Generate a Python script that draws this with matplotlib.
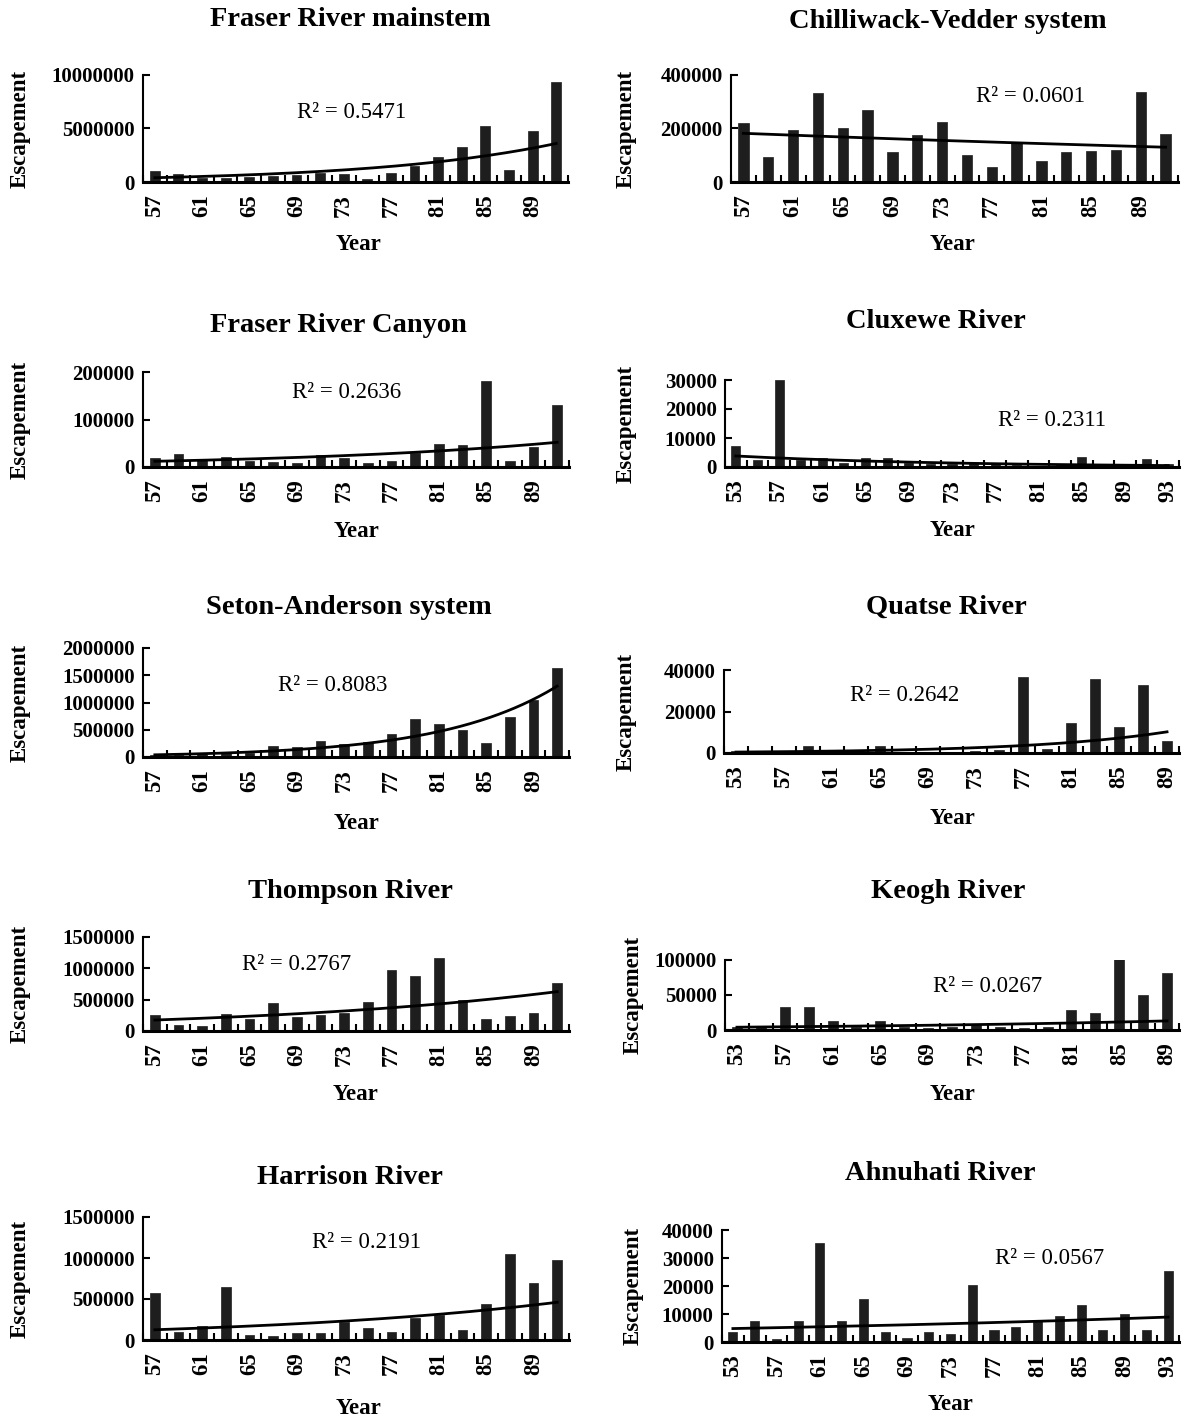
import matplotlib
matplotlib.use('Agg')
import matplotlib.pyplot as plt
import numpy as np
from matplotlib.ticker import FixedLocator

plt.rcParams['font.family'] = ['Liberation Serif', 'DejaVu Serif']

# ---------------- data ----------------
yrs_57_91 = [57, 59, 61, 63, 65, 67, 69, 71, 73, 75, 77, 79, 81, 83, 85, 87, 89, 91]
yrs_53_93 = [53, 55, 57, 59, 61, 63, 65, 67, 69, 71, 73, 75, 77, 79, 81, 83, 85, 87, 89, 91, 93]
yrs_53_89 = [53, 55, 57, 59, 61, 63, 65, 67, 69, 71, 73, 75, 77, 79, 81, 83, 85, 87, 89]

fraser_main = [1000000, 750000, 350000, 350000, 450000, 550000, 650000, 800000, 750000,
               300000, 800000, 1500000, 2300000, 3300000, 5200000, 1100000, 4800000, 9300000]
chilliwack = [220000, 95000, 195000, 331000, 202000, 271000, 112000, 177000, 225000,
              100000, 56000, 145000, 78000, 112000, 115000, 118000, 337000, 180000]
fraser_canyon = [19000, 28000, 17000, 21000, 12000, 10000, 8000, 25000, 20000,
                 8000, 12000, 30000, 48000, 46000, 181000, 12000, 42000, 131000]
cluxewe = [7100, 2500, 30000, 2500, 3200, 1500, 3200, 3200, 1500, 1000, 1200,
           1500, 1000, 600, 500, 800, 3600, 600, 500, 2700, 1000]
seton = [30000, 40000, 50000, 90000, 80000, 210000, 185000, 285000, 230000,
         270000, 420000, 705000, 610000, 490000, 250000, 735000, 1055000, 1625000]
quatse = [1200, 200, 200, 3500, 200, 200, 3500, 500, 300, 500, 1000,
          1500, 36500, 2000, 14300, 35600, 12500, 33000, 5800]
thompson = [255000, 96000, 80000, 266000, 186000, 441000, 229000, 255000, 282000,
            468000, 973000, 883000, 1165000, 495000, 186000, 245000, 282000, 760000]
keogh = [5000, 5000, 32500, 32500, 12500, 5000, 13500, 5000, 3000, 5000, 7000,
         5000, 3000, 5000, 28500, 24000, 101000, 50000, 81000]
harrison = [570000, 100000, 165000, 650000, 60000, 50000, 80000, 80000, 215000,
            150000, 100000, 265000, 305000, 122000, 435000, 1045000, 690000, 975000]
ahnuhati = [3600, 7500, 1200, 7500, 35400, 7500, 15200, 3600, 1500, 3600, 3000,
            20200, 4200, 5400, 7700, 9300, 13100, 4200, 10100, 4200, 25300]

# exponential trendline values at first and last year
trend_fraser_main = [400000, 3600000]
trend_chilliwack = [182000, 130000]
trend_fraser_canyon = [12000, 52000]
trend_cluxewe = [3800, 500]
trend_seton = [40000, 1300000]
trend_quatse = [450, 10200]
trend_thompson = [175000, 628000]
trend_keogh = [4000, 13000]
trend_harrison = [125000, 460000]
trend_ahnuhati = [4800, 8900]

r2_labels = ["0.5471", "0.0601", "0.2636", "0.2311", "0.8083",
             "0.2642", "0.2767", "0.0267", "0.2191", "0.0567"]
titles = ["Fraser River mainstem", "Chilliwack-Vedder system", "Fraser River Canyon",
          "Cluxewe River", "Seton-Anderson system", "Quatse River", "Thompson River",
          "Keogh River", "Harrison River", "Ahnuhati River"]

yt_fraser_main = [0, 5000000, 10000000]
yt_chilliwack = [0, 200000, 400000]
yt_fraser_canyon = [0, 100000, 200000]
yt_cluxewe = [0, 10000, 20000, 30000]
yt_seton = [0, 500000, 1000000, 1500000, 2000000]
yt_quatse = [0, 20000, 40000]
yt_thompson = [0, 500000, 1000000, 1500000]
yt_keogh = [0, 50000, 100000]
yt_harrison = [0, 500000, 1000000, 1500000]
yt_ahnuhati = [0, 10000, 20000, 30000, 40000]

# ---------------- layout (pixels) ----------------
W, H = 1185, 1423
fig = plt.figure(figsize=(W / 100, H / 100), dpi=100)
fig.patch.set_facecolor('white')

panels = [
    dict(years=yrs_57_91, vals=fraser_main, trend=trend_fraser_main, yt=yt_fraser_main,
         box=(143, 75, 568, 182), r2=(352, 113), tt=(350, 19), xl=(358, 245), yl=20),
    dict(years=yrs_57_91, vals=chilliwack, trend=trend_chilliwack, yt=yt_chilliwack,
         box=(731, 75, 1178, 182), r2=(1030, 97), tt=(948, 21), xl=(952, 245), yl=626),
    dict(years=yrs_57_91, vals=fraser_canyon, trend=trend_fraser_canyon, yt=yt_fraser_canyon,
         box=(143, 372, 569, 467), r2=(347, 393), tt=(338, 325), xl=(357, 532), yl=20),
    dict(years=yrs_53_93, vals=cluxewe, trend=trend_cluxewe, yt=yt_cluxewe,
         box=(725, 380, 1179, 467), r2=(1052, 421), tt=(936, 322), xl=(952, 531), yl=626),
    dict(years=yrs_57_91, vals=seton, trend=trend_seton, yt=yt_seton,
         box=(143, 648, 569, 757), r2=(333, 686), tt=(349, 608), xl=(357, 823), yl=20),
    dict(years=yrs_53_89, vals=quatse, trend=trend_quatse, yt=yt_quatse,
         box=(724, 670, 1179, 753), r2=(905, 696), tt=(946, 607), xl=(952, 818), yl=626),
    dict(years=yrs_57_91, vals=thompson, trend=trend_thompson, yt=yt_thompson,
         box=(143, 937, 569, 1031), r2=(297, 965), tt=(350, 892), xl=(356, 1095), yl=20),
    dict(years=yrs_53_89, vals=keogh, trend=trend_keogh, yt=yt_keogh,
         box=(725, 960, 1179, 1030), r2=(988, 986), tt=(948, 892), xl=(952, 1095), yl=633),
    dict(years=yrs_57_91, vals=harrison, trend=trend_harrison, yt=yt_harrison,
         box=(143, 1217, 569, 1340), r2=(366, 1242), tt=(350, 1178), xl=(358, 1408), yl=20),
    dict(years=yrs_53_93, vals=ahnuhati, trend=trend_ahnuhati, yt=yt_ahnuhati,
         box=(722, 1230, 1179, 1342), r2=(1050, 1258), tt=(940, 1174), xl=(950, 1405), yl=633),
]

def fx(x):
    return x / W

def fy(y):
    return 1 - y / H

bar_color = '#1e1e1e'
for i, p in enumerate(panels):
    l, t, r, b = p['box']
    ax = fig.add_axes([fx(l), fy(b), (r - l) / W, (b - t) / H])
    n = len(p['years'])
    x = np.arange(n)
    ax.bar(x, p['vals'], width=0.42, color=bar_color, edgecolor=bar_color, linewidth=0.5, zorder=2)
    xs = np.linspace(0, n - 1, 200)
    s, e = p['trend']
    ax.plot(xs, s * (e / s) ** (xs / (n - 1)), color='black', lw=2.0, zorder=3)
    ax.set_xlim(-0.5, n - 0.5)
    ax.set_ylim(p['yt'][0], p['yt'][-1])
    ax.set_yticks(p['yt'])
    ax.set_yticklabels([str(v) for v in p['yt']], fontsize=15, fontweight='bold')
    ax.set_xticks(x[::2])
    ax.set_xticklabels([str(v) for v in p['years'][::2]], rotation=90, fontsize=16.5,
                       fontweight='bold')
    ax.xaxis.set_minor_locator(FixedLocator(np.arange(n + 1) - 0.5))
    ax.tick_params(axis='x', which='major', length=0, pad=9)
    ax.tick_params(axis='x', which='minor', direction='in', length=5, width=1.5)
    ax.tick_params(axis='y', direction='in', length=5, width=1.5, pad=6)
    for sp in ['top', 'right']:
        ax.spines[sp].set_visible(False)
    ax.spines['bottom'].set_linewidth(2.2)
    ax.spines['left'].set_linewidth(1.5)
    ax.set_facecolor('white')
    ax.patch.set_alpha(0)

    fig.text(fx(p['r2'][0]), fy(p['r2'][1]), 'R\u00b2 = ' + r2_labels[i], fontsize=16.5,
             ha='center', va='center')
    fig.text(fx(p['tt'][0]), fy(p['tt'][1]), titles[i], fontsize=20.5, fontweight='bold',
             ha='center', va='center')
    fig.text(fx(p['xl'][0]), fy(p['xl'][1]), 'Year', fontsize=16.5, fontweight='bold',
             ha='center', va='center')
    fig.text(fx(p['yl']), fy((t + b) / 2), 'Escapement', fontsize=16.5, fontweight='bold',
             ha='center', va='center', rotation=90)

fig.savefig('out.png', dpi=100, facecolor='white')
